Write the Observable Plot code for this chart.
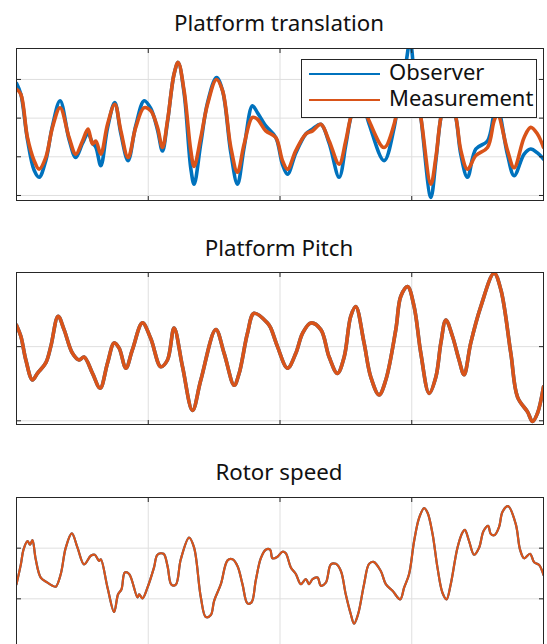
<!DOCTYPE html>
<html>
<head>
<meta charset="utf-8">
<script src="https://cdn.jsdelivr.net/npm/d3@7"></script>
<script src="https://cdn.jsdelivr.net/npm/@observablehq/plot@0.6"></script>
<style>
  html, body { margin: 0; padding: 0; background: #fff; }
  #root { position: relative; width: 547px; height: 644px; overflow: hidden; background: #fff; font-family: "Noto Sans", sans-serif; }
  .panel { position: absolute; left: 0; }
  #overlay { position: absolute; left: 0; top: 0; z-index: 5; pointer-events: none; }
</style>
</head>
<body>
<div id="root"></div>
<script>
// ---------- data ----------
const titles = ["Platform translation", "Platform Pitch", "Rotor speed"];
const legendLabels = ["Observer", "Measurement"];
const xTicks = [0, 1, 2, 3, 4];

// Panel 1: Platform translation
const transX = [0, 0.033, 0.083, 0.134, 0.172, 0.222, 0.273, 0.331, 0.399, 0.450, 0.501, 0.543, 0.577, 0.602, 0.640, 0.691, 0.746, 0.792, 0.847, 0.905, 0.969, 1.019, 1.070, 1.108, 1.146, 1.196, 1.227, 1.272, 1.323, 1.348, 1.399, 1.450, 1.518, 1.564, 1.627, 1.677, 1.728, 1.791, 1.829, 1.892, 1.968, 2.019, 2.057, 2.120, 2.196, 2.247, 2.310, 2.373, 2.449, 2.499, 2.537, 2.598, 2.676, 2.790, 2.866, 2.917, 2.950, 2.987, 3.020, 3.069, 3.145, 3.183, 3.221, 3.274, 3.335, 3.373, 3.423, 3.486, 3.575, 3.625, 3.651, 3.727, 3.777, 3.853, 3.903, 3.954, 4.0];
const transMeas = [1.75, 1.62, 0.50, -0.10, -0.32, -0.02, 0.76, 1.27, 0.50, 0.07, 0.41, 0.72, 0.33, 0.41, 0.07, 0.84, 1.36, 0.67, -0.02, 0.76, 1.27, 1.19, 0.76, 0.24, 0.93, 2.14, 2.44, 1.71, 0.16, -0.25, 0.50, 1.36, 2.00, 1.71, 0.24, -0.40, 0.33, 1.02, 0.97, 0.67, 0.50, -0.10, -0.32, 0.16, 0.59, 0.67, 0.84, 0.41, -0.19, 0.41, 1.02, 1.60, 0.93, 0.24, 0.84, 1.71, 2.10, 2.30, 1.90, 1.02, -0.71, -0.02, 1.02, 1.70, 1.02, 0.16, -0.32, 0.03, 0.24, 0.93, 1.10, 0.16, -0.28, 0.50, 0.76, 0.59, 0.24];
const transObs = [1.90, 1.62, 0.45, -0.35, -0.53, -0.10, 0.80, 1.45, 0.45, -0.02, 0.35, 0.60, 0.35, 0.25, -0.23, 0.75, 1.40, 0.60, -0.10, 0.80, 1.45, 1.25, 0.70, 0.15, 0.90, 2.14, 2.44, 1.65, -0.30, -0.71, 0.35, 1.40, 2.05, 1.71, 0.10, -0.71, 0.25, 1.32, 1.14, 0.80, 0.50, -0.20, -0.45, 0.10, 0.59, 0.72, 0.84, 0.35, -0.53, 0.30, 1.02, 1.70, 0.85, -0.10, 0.75, 1.90, 2.30, 3.00, 2.10, 1.02, -1.05, -0.10, 1.02, 1.80, 1.02, 0.05, -0.53, 0.20, 0.41, 1.10, 1.27, 0.05, -0.49, 0.07, 0.20, 0.10, -0.06];
const transTicks = [-1, 0, 1, 2];

// Panel 2: Platform Pitch
const pitchX = [0, 0.033, 0.071, 0.121, 0.159, 0.222, 0.260, 0.316, 0.361, 0.425, 0.475, 0.513, 0.577, 0.635, 0.691, 0.741, 0.779, 0.830, 0.880, 0.956, 1.019, 1.095, 1.146, 1.196, 1.260, 1.336, 1.399, 1.513, 1.576, 1.652, 1.690, 1.753, 1.803, 1.905, 1.930, 1.981, 2.057, 2.120, 2.171, 2.234, 2.310, 2.373, 2.436, 2.487, 2.537, 2.575, 2.638, 2.689, 2.752, 2.803, 2.879, 2.917, 2.968, 3.018, 3.069, 3.132, 3.183, 3.221, 3.259, 3.309, 3.359, 3.397, 3.448, 3.524, 3.625, 3.676, 3.752, 3.803, 3.879, 3.917, 3.954, 4.0];
const pitchMeas = [0.29, 0.14, -0.18, -0.45, -0.36, -0.22, 0, 0.41, 0.23, -0.09, -0.18, -0.14, -0.36, -0.56, -0.22, 0.05, -0.02, -0.29, -0.04, 0.32, 0.11, -0.27, -0.18, 0.25, -0.27, -0.86, -0.45, 0.23, -0.09, -0.52, -0.36, 0.18, 0.45, 0.32, 0.25, 0.0, -0.29, -0.09, 0.18, 0.32, 0.23, -0.14, -0.36, -0.14, 0.41, 0.54, 0.05, -0.41, -0.65, -0.45, 0.23, 0.68, 0.81, 0.54, -0.09, -0.63, -0.41, 0.05, 0.36, 0.14, -0.18, -0.38, 0.05, 0.54, 0.99, 0.77, -0.09, -0.68, -0.88, -1.01, -0.90, -0.54];
const pitchTicks = [-1, 0, 1];

// Panel 3: Rotor speed
const rotorX = [0, 0.033, 0.053, 0.083, 0.103, 0.121, 0.146, 0.184, 0.235, 0.273, 0.298, 0.336, 0.374, 0.420, 0.463, 0.513, 0.564, 0.594, 0.627, 0.640, 0.691, 0.741, 0.771, 0.797, 0.822, 0.855, 0.918, 0.931, 0.956, 0.994, 1.044, 1.070, 1.116, 1.146, 1.176, 1.209, 1.247, 1.310, 1.348, 1.399, 1.437, 1.475, 1.500, 1.551, 1.602, 1.639, 1.677, 1.715, 1.753, 1.784, 1.816, 1.854, 1.892, 1.925, 1.943, 1.981, 2.019, 2.044, 2.082, 2.120, 2.158, 2.196, 2.221, 2.247, 2.285, 2.310, 2.348, 2.386, 2.424, 2.462, 2.499, 2.537, 2.562, 2.593, 2.638, 2.676, 2.710, 2.765, 2.803, 2.854, 2.912, 2.942, 2.980, 3.018, 3.056, 3.094, 3.120, 3.158, 3.195, 3.233, 3.264, 3.296, 3.347, 3.385, 3.403, 3.435, 3.473, 3.511, 3.545, 3.580, 3.600, 3.630, 3.663, 3.689, 3.731, 3.790, 3.822, 3.853, 3.898, 3.929, 3.967, 4.0];
const rotorMeas = [0.29, 0.68, 0.97, 1.14, 1.07, 1.16, 0.78, 0.42, 0.32, 0.26, 0.24, 0.49, 1.01, 1.29, 1.01, 0.68, 0.85, 0.87, 0.75, 0.78, 0.22, -0.26, 0.09, 0.19, 0.52, 0.49, 0.03, 0.09, 0.01, 0.22, 0.62, 0.87, 0.89, 0.65, 0.28, 0.28, 0.78, 1.21, 1.01, 0.03, -0.36, -0.32, -0.04, 0.29, 0.76, 0.78, 0.65, 0.29, -0.09, -0.07, 0.36, 0.80, 0.97, 0.97, 0.80, 0.83, 0.93, 0.90, 0.62, 0.49, 0.29, 0.39, 0.29, 0.39, 0.42, 0.26, 0.32, 0.68, 0.69, 0.55, 0.09, -0.30, -0.49, -0.30, 0.29, 0.69, 0.73, 0.55, 0.29, 0.16, -0.01, 0.22, 0.49, 1.14, 1.60, 1.79, 1.70, 1.28, 0.62, 0.12, -0.01, 0.29, 1.01, 1.31, 1.36, 1.14, 0.87, 1.01, 1.34, 1.44, 1.28, 1.26, 1.42, 1.72, 1.83, 1.47, 0.97, 0.80, 0.89, 0.72, 0.67, 0.47];
const rotorTicks = [-1, 0, 1, 2];

// ---------- styling ----------
const BLUE = "#0072BD", ORANGE = "#D95319";
const AXIS = "#262626", GRID = "#dfdfdf";

function toRows(xs, ys) { return xs.map((x, i) => ({x, y: ys[i]})); }

function panel({obs, meas, yDomain, yTicks, top, boxH, sw}) {
  const noLabel = {tickFormat: () => "", label: null, stroke: AXIS, color: AXIS};
  const lineOpts = {x: "x", y: "y", strokeWidth: sw, clip: true, curve: "catmull-rom", strokeLinejoin: "round"};
  const chart = Plot.plot({
    width: 547,
    height: boxH + 16,
    marginLeft: 16, marginRight: 4, marginTop: 8, marginBottom: 8,
    x: {domain: [0, 4]},
    y: {domain: yDomain},
    style: {background: "transparent", overflow: "visible"},
    marks: [
      Plot.gridX(xTicks, {stroke: GRID, strokeOpacity: 1, strokeWidth: 1}),
      Plot.gridY(yTicks, {stroke: GRID, strokeOpacity: 1, strokeWidth: 1}),
      Plot.line(obs, {...lineOpts, stroke: BLUE}),
      Plot.line(meas, {...lineOpts, stroke: ORANGE}),
      Plot.frame({stroke: AXIS, strokeWidth: 1}),
      Plot.axisX(xTicks, {anchor: "bottom", tickSize: -4, ...noLabel}),
      Plot.axisX(xTicks, {anchor: "top", tickSize: -4, ...noLabel}),
      Plot.axisY(yTicks, {anchor: "left", tickSize: -5, ...noLabel}),
      Plot.axisY(yTicks, {anchor: "right", tickSize: -5, ...noLabel})
    ]
  });
  chart.classList.add("panel");
  chart.style.top = (top - 8) + "px";
  return chart;
}

const root = document.getElementById("root");
root.appendChild(panel({
  obs: toRows(transX, transObs), meas: toRows(transX, transMeas),
  yDomain: [-1.13, 2.8], yTicks: transTicks, top: 48, boxH: 152, sw: 3.6
}));
root.appendChild(panel({
  obs: toRows(pitchX, pitchMeas), meas: toRows(pitchX, pitchMeas),
  yDomain: [-1.05, 1.0], yTicks: pitchTicks, top: 272, boxH: 152, sw: 3.6
}));
root.appendChild(panel({
  obs: toRows(rotorX, rotorMeas), meas: toRows(rotorX, rotorMeas),
  yDomain: [-1.0, 2.0], yTicks: rotorTicks, top: 497, boxH: 152, sw: 2.2
}));

// ---------- titles + legend overlay ----------
const svg = d3.select(root).append("svg")
  .attr("id", "overlay").attr("width", 547).attr("height", 644)
  .style("font-family", "'Noto Sans', sans-serif");

const titleBaselines = [31, 255.5, 480];
titles.forEach((t, i) => {
  svg.append("text").attr("x", 279).attr("y", titleBaselines[i])
    .attr("text-anchor", "middle").attr("font-size", 22.3).attr("fill", "#111").text(t);
});

const lg = svg.append("g");
lg.append("rect").attr("x", 301.5).attr("y", 59.5).attr("width", 235).attr("height", 58)
  .attr("fill", "#fff").attr("stroke", AXIS).attr("stroke-width", 1);
[BLUE, ORANGE].forEach((c, i) => {
  const yy = 74 + i * 26;
  lg.append("line").attr("x1", 309).attr("x2", 380).attr("y1", yy).attr("y2", yy)
    .attr("stroke", c).attr("stroke-width", 2.2);
  lg.append("text").attr("x", 389).attr("y", yy + 5.5).attr("font-size", 22)
    .attr("fill", "#111").text(legendLabels[i]);
});
</script>
</body>
</html>
